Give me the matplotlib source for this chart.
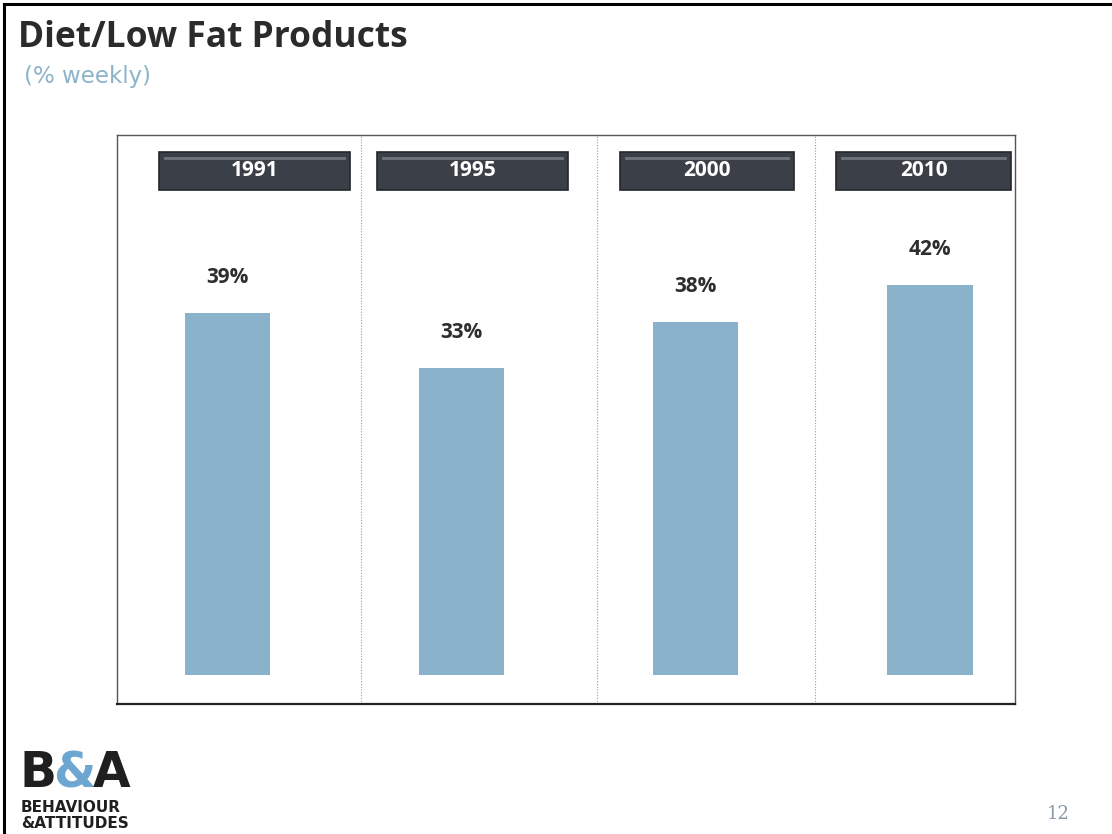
import matplotlib.pyplot as plt
from matplotlib.patches import Rectangle

# data
years = ['1991', '1995', '2000', '2010']
values = [39, 33, 38, 42]
labels = ['39%', '33%', '38%', '42%']

W, H = 1112, 834
fig = plt.figure(figsize=(W / 100, H / 100), dpi=100)
fig.patch.set_facecolor('white')


def fx(px):
    return px / W


def fy(py):
    return 1 - py / H


# slide border (top + left)
fig.add_artist(plt.Line2D([fx(4), fx(4)], [fy(4), fy(834)], color='black', lw=2.2))
fig.add_artist(plt.Line2D([fx(4), fx(1112)], [fy(4), fy(4)], color='black', lw=2.2))

# title
fig.text(fx(18), fy(38), 'Diet/Low Fat Products', fontsize=25.5, fontweight='bold',
         color='#2b2b2b', family='Open Sans', va='center', ha='left')
fig.text(fx(24), fy(77), '(% weekly)', fontsize=16.5, color='#8db3c9',
         family='DejaVu Sans', va='center', ha='left')

# chart box
ax = fig.add_axes([fx(117), fy(704), fx(1015 - 117), (704 - 135) / H])
x = list(range(len(years)))
ax.bar(x, values, width=0.367, color='#8ab3cb', zorder=2)
for xi, v, lab in zip(x, values, labels):
    ax.text(xi, v + 3.8, lab, ha='center', va='center', fontsize=15,
            fontweight='bold', color='#2e2e2e', family='Open Sans')
ax.set_xlim(-0.472, 3.365)
ax.set_ylim(-3.12, 58.1)
ax.set_xticks([])
ax.set_yticks([])
for d in [0.572, 1.58, 2.512]:
    ax.axvline(d, color='#9a9a9a', lw=0.8, ls=(0, (1, 1.5)), zorder=1)
for s in ['top', 'left', 'right']:
    ax.spines[s].set_color('#555555')
    ax.spines[s].set_linewidth(1.0)
ax.spines['bottom'].set_color('#222222')
ax.spines['bottom'].set_linewidth(1.6)

# year header boxes
box_x = [(159, 350), (377, 568), (620, 794), (836, 1011)]
for (x0, x1), yr in zip(box_x, years):
    fig.add_artist(Rectangle((fx(x0), fy(190)), fx(x1 - x0), 38 / H,
                             facecolor='#3b4048', edgecolor='#23272c', lw=1.2,
                             transform=fig.transFigure))
    fig.add_artist(plt.Line2D([fx(x0 + 6), fx(x1 - 6)], [fy(158), fy(158)],
                              color='#6f757d', lw=2.0))
    fig.text(fx((x0 + x1) / 2), fy(171), yr, ha='center', va='center',
             fontsize=15, fontweight='bold', color='white', family='Open Sans')

# logo
fig.text(fx(19), fy(773), 'B', fontsize=35, fontweight='black', color='#1f1f1f',
         family='DejaVu Sans', va='center', ha='left')
fig.text(fx(53), fy(773), '&', fontsize=35, fontweight='bold', color='#6ea6d2',
         family='DejaVu Sans', va='center', ha='left')
fig.text(fx(93), fy(773), 'A', fontsize=35, fontweight='black', color='#1f1f1f',
         family='DejaVu Sans', va='center', ha='left')
fig.text(fx(21), fy(808), 'BEHAVIOUR', fontsize=11, fontweight='black',
         color='#1f1f1f', family='DejaVu Sans', va='center', ha='left')
fig.text(fx(21), fy(823), '&ATTITUDES', fontsize=11, fontweight='black',
         color='#1f1f1f', family='DejaVu Sans', va='center', ha='left')

# page number
fig.text(fx(1058), fy(814), '12', fontsize=13, color='#8a9aa8',
         family='DejaVu Serif', va='center', ha='center')

fig.savefig('out.png', dpi=100)
